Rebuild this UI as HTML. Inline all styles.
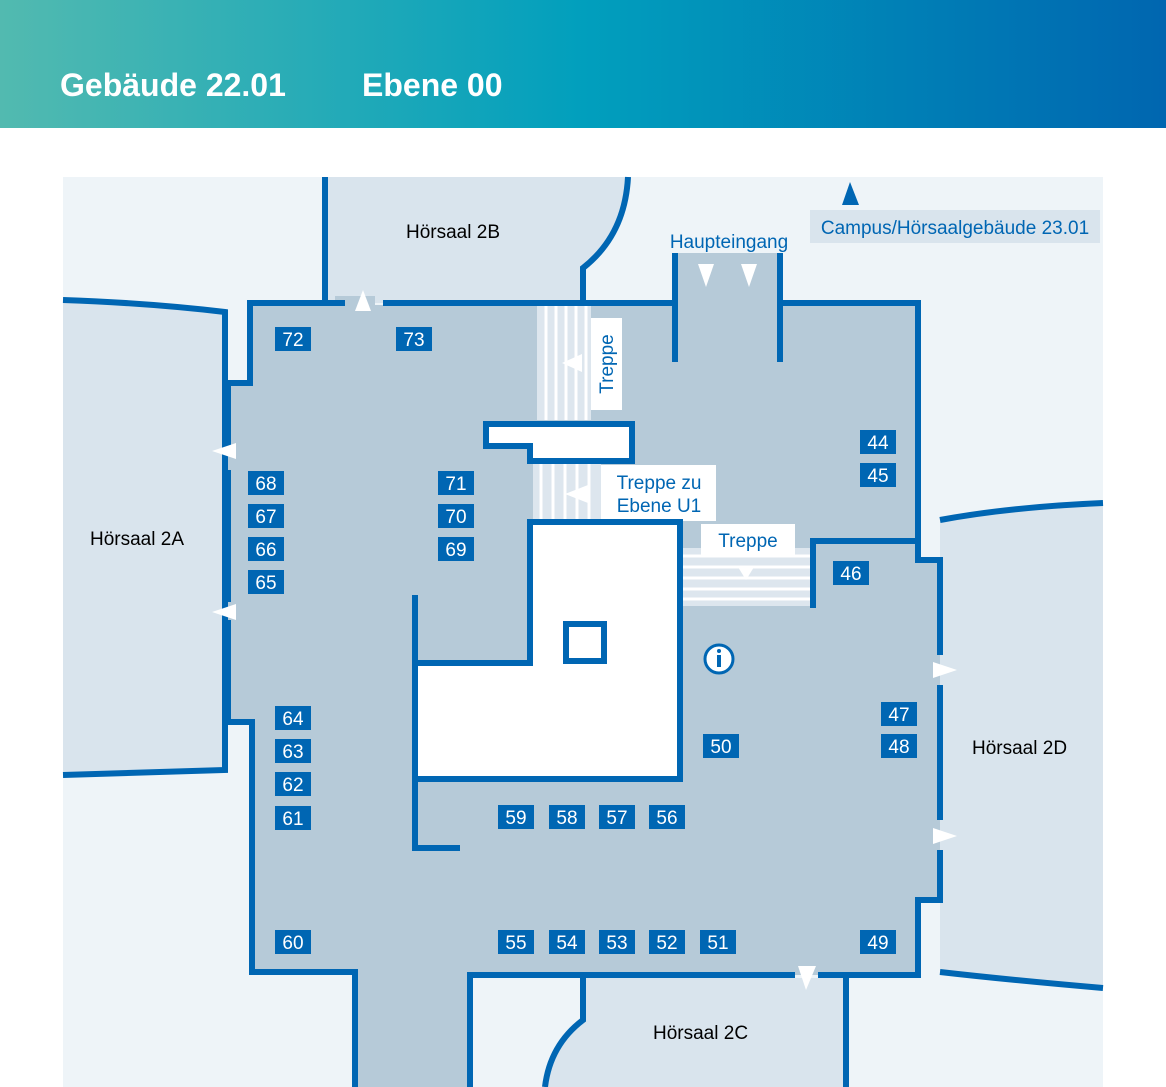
<!DOCTYPE html>
<html><head><meta charset="utf-8"><style>
html,body{margin:0;padding:0;background:#fff;}
svg{display:block;font-family:"Liberation Sans",sans-serif;}
</style></head><body>
<svg width="1166" height="1087" viewBox="0 0 1166 1087" xmlns="http://www.w3.org/2000/svg">
<defs>
<linearGradient id="hg" x1="0" x2="1" y1="0" y2="0">
<stop offset="0" stop-color="#52bab0"/><stop offset="0.5" stop-color="#019fbd"/><stop offset="1" stop-color="#0066b0"/>
</linearGradient>
</defs>
<rect x="0" y="0" width="1166" height="128" fill="url(#hg)"/>
<text x="60" y="96" font-size="32" font-weight="bold" fill="#fff">Gebäude 22.01</text>
<text x="362" y="96" font-size="32" font-weight="bold" fill="#fff">Ebene 00</text>

<rect x="63" y="177" width="1040" height="910" fill="#eef4f8"/>
<!-- Hörsaal 2A -->
<path d="M63,300 Q150,303 225,312 L225,770 L63,775 Z" fill="#d9e4ed"/>
<path d="M63,300 Q150,303 225,312 L225,770 L63,775" fill="none" stroke="#0066b3" stroke-width="6"/>
<!-- Hörsaal 2B -->
<path d="M325,177 L628,177 Q625,235 583,268 L583,303 L325,303 Z" fill="#d9e4ed"/>
<path d="M628,177 Q625,235 583,268 L583,303" fill="none" stroke="#0066b3" stroke-width="6"/>
<!-- Hörsaal 2D -->
<path d="M940,520 Q1010,507 1103,503 L1103,988 Q1010,980 940,972 Z" fill="#d9e4ed"/>
<path d="M940,520 Q1010,507 1103,503 M1103,988 Q1010,980 940,972" fill="none" stroke="#0066b3" stroke-width="6"/>
<!-- Hörsaal 2C -->
<path d="M583,978 L846,978 L846,1087 L545,1087 Q550,1045 583,1020 Z" fill="#d9e4ed"/>
<path d="M583,978 L583,1020 Q550,1045 545,1087 M846,975 L846,1087" fill="none" stroke="#0066b3" stroke-width="6"/>

<!-- main floor -->
<path d="M250,305 L920,305 L920,560 L940,560 L940,900 L920,900 L920,975 L470,975 L470,1087 L355,1087 L355,972 L252,972 L252,723 L228,723 L228,383 L250,383 Z" fill="#b6cad8"/>
<rect x="675" y="253" width="105" height="55" fill="#b6cad8"/>
<rect x="335" y="296" width="40" height="10" fill="#b6cad8"/>

<!-- stairs top -->
<rect x="537" y="306" width="54" height="114" fill="#dde6ee"/>
<g stroke="#fff" stroke-width="3"><line x1="546" y1="306" x2="546" y2="420"/><line x1="556" y1="306" x2="556" y2="420"/><line x1="566" y1="306" x2="566" y2="420"/><line x1="576" y1="306" x2="576" y2="420"/><line x1="586" y1="306" x2="586" y2="420"/></g>
<polygon points="562,363 582,354 582,372" fill="#fff"/>
<rect x="591" y="318" width="31" height="92" fill="#fff"/>
<text transform="translate(613,364) rotate(-90)" text-anchor="middle" font-size="19" fill="#0066b3">Treppe</text>

<!-- stairs U1 -->
<rect x="533" y="464" width="68" height="57" fill="#dde6ee"/>
<g stroke="#fff" stroke-width="3"><line x1="541" y1="464" x2="541" y2="521"/><line x1="553" y1="464" x2="553" y2="521"/><line x1="565" y1="464" x2="565" y2="521"/><line x1="577" y1="464" x2="577" y2="521"/><line x1="589" y1="464" x2="589" y2="521"/></g>
<polygon points="565,494 588,485 588,503" fill="#fff"/>
<rect x="601" y="465" width="115" height="56" fill="#fff"/>
<text x="659" y="489" text-anchor="middle" font-size="19" fill="#0066b3">Treppe zu</text>
<text x="659" y="512" text-anchor="middle" font-size="19" fill="#0066b3">Ebene U1</text>

<!-- stairs right -->
<rect x="683" y="548" width="128" height="58" fill="#dde6ee"/>
<g stroke="#fff" stroke-width="3"><line x1="683" y1="556" x2="811" y2="556"/><line x1="683" y1="567" x2="811" y2="567"/><line x1="683" y1="578" x2="811" y2="578"/><line x1="683" y1="589" x2="811" y2="589"/><line x1="683" y1="599" x2="811" y2="599"/></g>
<polygon points="738,567 754,567 746,580" fill="#fff"/>
<rect x="701" y="524" width="94" height="31" fill="#fff"/>
<text x="748" y="547" text-anchor="middle" font-size="19" fill="#0066b3">Treppe</text>

<!-- white blocks -->
<path d="M486,424 L632,424 L632,461 L530,461 L530,446 L486,446 Z" fill="#fff" stroke="#0066b3" stroke-width="6"/>
<path d="M530,522 L680,522 L680,779 L415,779 L415,663 L530,663 Z" fill="#fff" stroke="#0066b3" stroke-width="6"/>
<rect x="566" y="624" width="38" height="37" fill="#fff" stroke="#0066b3" stroke-width="6"/>

<!-- walls -->
<g fill="none" stroke="#0066b3" stroke-width="6">
<path d="M325,177 L325,303 L250,303 L250,383 L228,383 L228,450"/>
<path d="M228,470 L228,602 M228,620 L228,722 L252,722 L252,972 L355,972 L355,1087"/>
<path d="M470,1087 L470,975 L795,975 M818,975 L918,975 L918,900 L940,900 L940,850"/>
<path d="M940,820 L940,685 M940,655 L940,560 L918,560 L918,303 L780,303"/>
<path d="M780,253 L780,362 M675,253 L675,362"/>
<path d="M675,303 L383,303 M345,303 L322,303"/>
<path d="M813,608 L813,541 L918,541"/>
<path d="M415,595 L415,848 L460,848"/>
</g>

<!-- arrows white -->
<g fill="#fff">
<polygon points="363,290 355,311 371,311"/>
<polygon points="212,451 236,443 236,459"/>
<polygon points="212,612 236,604 236,620"/>
<polygon points="698,264 714,264 706,287"/>
<polygon points="741,264 757,264 749,287"/>
<polygon points="957,670 933,662 933,678"/>
<polygon points="957,836 933,828 933,844"/>
<polygon points="798,966 816,966 806,990"/>
</g>
<!-- info -->
<circle cx="719" cy="659" r="14" fill="#fff" stroke="#0066b3" stroke-width="3"/>
<circle cx="719" cy="651" r="2" fill="#0066b3"/>
<rect x="717" y="655" width="4" height="12" fill="#0066b3"/>

<!-- labels -->
<g font-size="19" fill="#000">
<text x="406" y="238">Hörsaal 2B</text>
<text x="90" y="545">Hörsaal 2A</text>
<text x="972" y="754">Hörsaal 2D</text>
<text x="653" y="1039">Hörsaal 2C</text>
</g>
<text x="729" y="248" text-anchor="middle" font-size="19" fill="#0066b3">Haupteingang</text>
<rect x="810" y="210" width="290" height="33" fill="#d9e4ed"/>
<text x="955" y="234" text-anchor="middle" font-size="19" fill="#0066b3">Campus/Hörsaalgebäude 23.01</text>
<polygon points="850,182 842,205 859,205" fill="#0066b3"/>

<!-- room numbers -->
<g fill="#0066b3">
<rect x="275" y="327" width="36" height="24"/><rect x="396" y="327" width="36" height="24"/>
<rect x="248" y="471" width="36" height="24"/><rect x="248" y="504" width="36" height="24"/><rect x="248" y="537" width="36" height="24"/><rect x="248" y="570" width="36" height="24"/>
<rect x="438" y="471" width="36" height="24"/><rect x="438" y="504" width="36" height="24"/><rect x="438" y="537" width="36" height="24"/>
<rect x="860" y="430" width="36" height="24"/><rect x="860" y="463" width="36" height="24"/><rect x="833" y="561" width="36" height="24"/>
<rect x="881" y="702" width="36" height="24"/><rect x="881" y="734" width="36" height="24"/><rect x="703" y="734" width="36" height="24"/>
<rect x="275" y="706" width="36" height="24"/><rect x="275" y="739" width="36" height="24"/><rect x="275" y="772" width="36" height="24"/><rect x="275" y="806" width="36" height="24"/>
<rect x="498" y="805" width="36" height="24"/><rect x="549" y="805" width="36" height="24"/><rect x="599" y="805" width="36" height="24"/><rect x="649" y="805" width="36" height="24"/>
<rect x="275" y="930" width="36" height="24"/><rect x="498" y="930" width="36" height="24"/><rect x="549" y="930" width="36" height="24"/><rect x="599" y="930" width="36" height="24"/><rect x="649" y="930" width="36" height="24"/><rect x="700" y="930" width="36" height="24"/><rect x="860" y="930" width="36" height="24"/>
</g>
<g font-size="19" fill="#fff" text-anchor="middle">
<text x="293" y="346">72</text><text x="414" y="346">73</text>
<text x="266" y="490">68</text><text x="266" y="523">67</text><text x="266" y="556">66</text><text x="266" y="589">65</text>
<text x="456" y="490">71</text><text x="456" y="523">70</text><text x="456" y="556">69</text>
<text x="878" y="449">44</text><text x="878" y="482">45</text><text x="851" y="580">46</text>
<text x="899" y="721">47</text><text x="899" y="753">48</text><text x="721" y="753">50</text>
<text x="293" y="725">64</text><text x="293" y="758">63</text><text x="293" y="791">62</text><text x="293" y="825">61</text>
<text x="516" y="824">59</text><text x="567" y="824">58</text><text x="617" y="824">57</text><text x="667" y="824">56</text>
<text x="293" y="949">60</text><text x="516" y="949">55</text><text x="567" y="949">54</text><text x="617" y="949">53</text><text x="667" y="949">52</text><text x="718" y="949">51</text><text x="878" y="949">49</text>
</g>
</svg>
</body></html>
